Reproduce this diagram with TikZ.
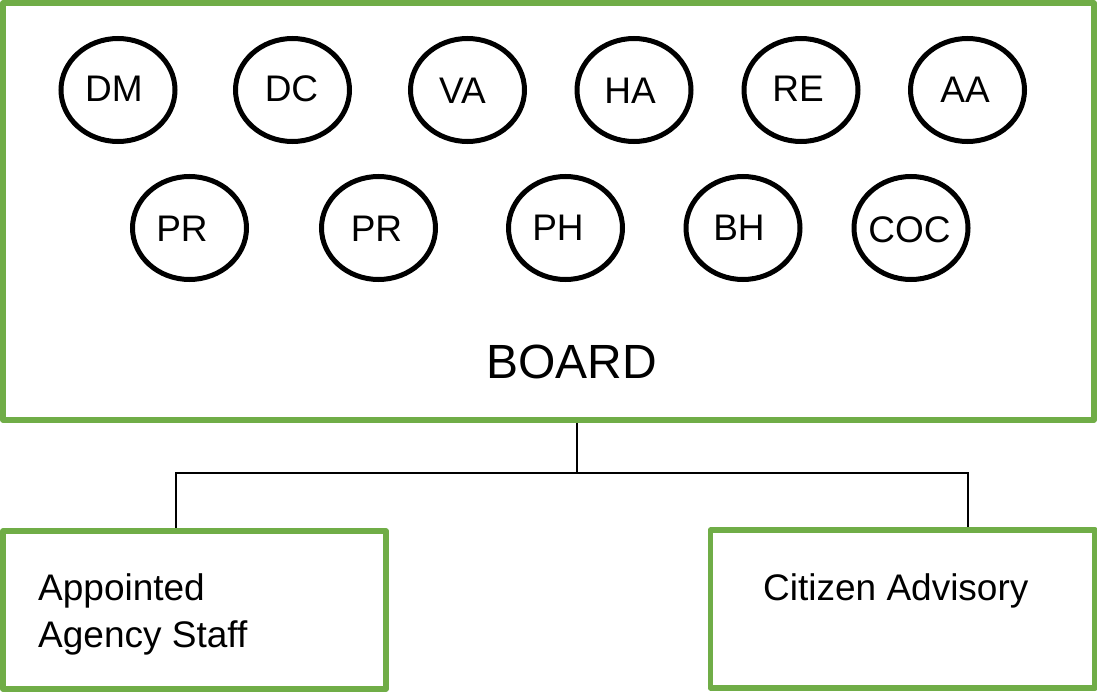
\documentclass[tikz,border=0pt]{standalone}
\usepackage{fontspec}
\setmainfont{Liberation Sans}
\usetikzlibrary{shapes.geometric,backgrounds}
\definecolor{boxgreen}{HTML}{70AD47}
\begin{document}
\begin{tikzpicture}[x=1bp,y=-1bp,
  greenbox/.style={draw=boxgreen,line width=5.5bp,rectangle,inner sep=0pt,line join=round},
  oval/.style={draw=black,line width=5bp,ellipse,inner sep=0pt,minimum width=114bp,minimum height=103bp},
  lbl/.style={inner sep=0pt,anchor=base,font=\fontsize{37bp}{47bp}\selectfont},
  conn/.style={draw=black,line width=1.5bp}]
\useasboundingbox (0,0) rectangle (1097,693);
% boxes
\node[greenbox,minimum width=1091bp,minimum height=417bp] (board) at (548.5,211.5) {};
\node[greenbox,minimum width=383bp,minimum height=158bp] (staff) at (194.5,610) {};
\node[greenbox,minimum width=384.5bp,minimum height=158bp] (citizen) at (902.75,609) {};
% connectors (under the boxes)
\coordinate (j) at (577,473);
\coordinate (jl) at (176,473);
\coordinate (jr) at (968,473);
\begin{scope}[on background layer]
\draw[conn] (board.south -| j) -- (j);
\draw[conn] (staff.north -| jl) -- (jl) -- (jr) -- (citizen.north -| jr);
\end{scope}
% row 1
\node[oval] (dm) at (118,90) {};
\node[oval] (dc) at (292.5,90) {};
\node[oval] (va) at (467.5,90) {};
\node[oval] (ha) at (634,90) {};
\node[oval] (re) at (801,90) {};
\node[oval] (aa) at (967.5,90) {};
\node[lbl] (tdm) at (114,102) {DM};
\node[lbl] (tdc) at (291.5,102) {DC};
\node[lbl] (tva) at (462.5,104) {VA};
\node[lbl] (tha) at (630,104) {HA};
\node[lbl] (tre) at (798,102) {RE};
\node[lbl] (taa) at (965,103) {AA};
% row 2
\node[oval] (pr1) at (189.5,228) {};
\node[oval] (pr2) at (378.5,228) {};
\node[oval] (ph) at (565.5,228) {};
\node[oval] (bh) at (743,228) {};
\node[oval] (coc) at (911,228) {};
\node[lbl] (tpr1) at (182,241) {PR};
\node[lbl] (tpr2) at (376.5,241) {PR};
\node[lbl] (tph) at (558,240) {PH};
\node[lbl] (tbh) at (739,240) {BH};
\node[lbl] (tcoc) at (909.5,242) {COC};
% labels
\node[inner sep=0pt,anchor=base,font=\fontsize{48bp}{56bp}\selectfont] (tboard) at (571.5,378) {BOARD};
\node[inner sep=0pt,anchor=base west,align=left,font=\fontsize{37bp}{47bp}\selectfont] (tstaff) at (38,647) {Appointed\\Agency Staff};
\node[inner sep=0pt,anchor=base west,font=\fontsize{37bp}{47bp}\selectfont] (tcit) at (763,600) {Citizen Advisory};
\end{tikzpicture}
\end{document}
